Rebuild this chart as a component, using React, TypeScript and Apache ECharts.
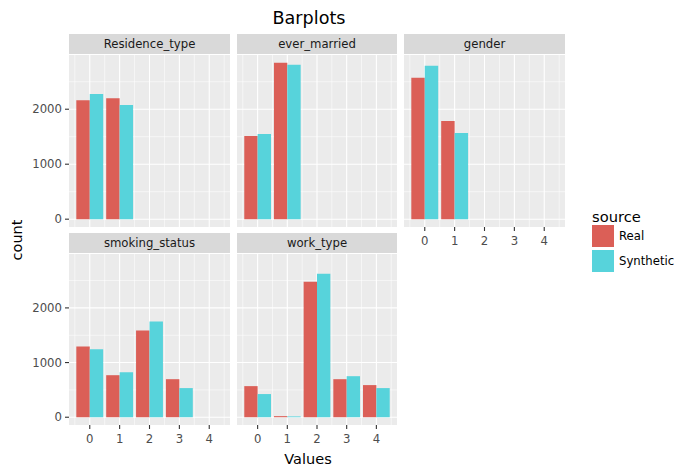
import React, { useEffect, useRef } from "react";
import * as echarts from "echarts";

// ---- data ----
const xValues = [0, 1, 2, 3, 4];
const facetNames = ["Residence_type", "ever_married", "gender", "smoking_status", "work_type"];
const sourceNames = ["Real", "Synthetic"];
const realResidenceType = [2165, 2200];
const synthResidenceType = [2279, 2078];
const realEverMarried = [1513, 2844];
const synthEverMarried = [1550, 2808];
const realGender = [2571, 1786];
const synthGender = [2790, 1568];
const realSmokingStatus = [1296, 769, 1587, 696];
const synthSmokingStatus = [1242, 824, 1751, 533];
const realWorkType = [569, 20, 2478, 696, 588];
const synthWorkType = [424, 15, 2624, 751, 533];
const yTickValues = [0, 1000, 2000];
const yMinorValues = [500, 1500, 2500];
const xMinorValues = [-0.5, 0.5, 1.5, 2.5, 3.5, 4.5];

const realByFacet = [realResidenceType, realEverMarried, realGender, realSmokingStatus, realWorkType];
const synthByFacet = [synthResidenceType, synthEverMarried, synthGender, synthSmokingStatus, synthWorkType];

const COLORS = ["#DB5F57", "#57D3DB"];
const FONT = "DejaVu Sans";

// layout
const panels = [
  { left: 69, top: 55, width: 161, height: 172, yLabels: true, xLabels: false },
  { left: 237, top: 55, width: 160, height: 172, yLabels: false, xLabels: false },
  { left: 404, top: 55, width: 161, height: 172, yLabels: false, xLabels: true },
  { left: 69, top: 254, width: 161, height: 171, yLabels: true, xLabels: true },
  { left: 237, top: 254, width: 160, height: 171, yLabels: false, xLabels: true },
];
const STRIP_H = 20;
const TICK_LEN = 4;

export default function App() {
  const ref = useRef<HTMLDivElement>(null);
  useEffect(() => {
    if (!ref.current) return;
    const chart = echarts.init(ref.current, null, { renderer: "svg" });

    const allVals = [...realByFacet.flat(), ...synthByFacet.flat()];
    const dMax = Math.max(...allVals);
    const yMin = -0.05 * dMax;
    const yMax = 1.05 * dMax;
    const barW = 0.45;
    const last = xValues[xValues.length - 1];
    const xLo = -barW - 0.05 * (last + 2 * barW);
    const xHi = last + barW + 0.05 * (last + 2 * barW);

    const grids: any[] = [];
    const xAxes: any[] = [];
    const yAxes: any[] = [];
    const series: any[] = [];
    const graphics: any[] = [];

    panels.forEach((p, i) => {
      grids.push({
        left: p.left, top: p.top, width: p.width, height: p.height,
        show: true, backgroundColor: "#EBEBEB", borderWidth: 0, containLabel: false,
      });
      xAxes.push({
        type: "value", gridIndex: i, min: xLo, max: xHi,
        axisLine: { show: false }, splitLine: { show: false }, axisTick: { show: false },
        axisLabel: {
          show: p.xLabels, customValues: xValues, color: "#4D4D4D", fontSize: 11.7, fontFamily: FONT, margin: 8,
          formatter: (v: number) => String(v),
        },
      });
      yAxes.push({
        type: "value", gridIndex: i, min: yMin, max: yMax,
        axisLine: { show: false }, splitLine: { show: false }, axisTick: { show: false },
        axisLabel: {
          show: p.yLabels, customValues: yTickValues, color: "#4D4D4D", fontSize: 11.7, fontFamily: FONT, margin: 7,
          formatter: (v: number) => String(v),
        },
      });
      // gridlines and ticks: [kind, value, major]; kind 0 = x grid, 1 = y grid, 2 = x tick, 3 = y tick
      const gl: number[][] = [];
      xMinorValues.forEach((v) => gl.push([0, v, 0]));
      xValues.forEach((v) => gl.push([0, v, 1]));
      yMinorValues.forEach((v) => gl.push([1, v, 0]));
      yTickValues.forEach((v) => gl.push([1, v, 1]));
      if (p.xLabels) xValues.forEach((v) => gl.push([2, v, 1]));
      if (p.yLabels) yTickValues.forEach((v) => gl.push([3, v, 1]));
      series.push({
        type: "custom", xAxisIndex: i, yAxisIndex: i, z: 1, silent: true, clip: false,
        data: gl,
        renderItem: (params: any, api: any) => {
          const cs = params.coordSys;
          const kind = api.value(0);
          const v = api.value(1);
          const lw = api.value(2) ? 1.1 : 0.55;
          if (kind === 0) {
            const px = api.coord([v, 0])[0];
            return { type: "line", shape: { x1: px, y1: cs.y, x2: px, y2: cs.y + cs.height }, style: { stroke: "#FFFFFF", lineWidth: lw } };
          }
          if (kind === 1) {
            const py = api.coord([0, v])[1];
            return { type: "line", shape: { x1: cs.x, y1: py, x2: cs.x + cs.width, y2: py }, style: { stroke: "#FFFFFF", lineWidth: lw } };
          }
          if (kind === 2) {
            const px = api.coord([v, 0])[0];
            const yb = cs.y + cs.height;
            return { type: "line", shape: { x1: px, y1: yb, x2: px, y2: yb + TICK_LEN }, style: { stroke: "#333333", lineWidth: 1.1 } };
          }
          const py = api.coord([0, v])[1];
          return { type: "line", shape: { x1: cs.x - TICK_LEN, y1: py, x2: cs.x, y2: py }, style: { stroke: "#333333", lineWidth: 1.1 } };
        },
      });
      [realByFacet[i], synthByFacet[i]].forEach((arr, s) => {
        const off0 = s === 0 ? -barW : 0;
        const off1 = s === 0 ? 0 : barW;
        series.push({
          type: "custom", name: sourceNames[s], xAxisIndex: i, yAxisIndex: i, z: 2,
          itemStyle: { color: COLORS[s] },
          data: arr.map((v, k) => [xValues[k], v]),
          renderItem: (params: any, api: any) => {
            const x = api.value(0);
            const v = api.value(1);
            const a = api.coord([x + off0, v]);
            const b = api.coord([x + off1, 0]);
            return { type: "rect", shape: { x: a[0], y: a[1], width: b[0] - a[0], height: b[1] - a[1] }, style: { fill: COLORS[s] } };
          },
        });
      });
      graphics.push({
        type: "rect", left: p.left, top: p.top - STRIP_H - 1,
        shape: { width: p.width, height: STRIP_H }, style: { fill: "#D9D9D9" }, silent: true,
      });
      graphics.push({
        type: "text", x: p.left + p.width / 2, y: p.top - 1 - STRIP_H / 2,
        style: { text: facetNames[i], fill: "#1A1A1A", font: `11.7px "${FONT}"`, textAlign: "center", textVerticalAlign: "middle" },
      });
    });

    graphics.push({
      type: "text", x: 309, y: 18,
      style: { text: "Barplots", fill: "#000000", font: `17.6px "${FONT}"`, textAlign: "center", textVerticalAlign: "middle" },
    });
    graphics.push({
      type: "text", x: 308, y: 459,
      style: { text: "Values", fill: "#000000", font: `14.5px "${FONT}"`, textAlign: "center", textVerticalAlign: "middle" },
    });
    graphics.push({
      type: "text", x: 17, y: 240, rotation: Math.PI / 2,
      style: { text: "count", fill: "#000000", font: `14.5px "${FONT}"`, textAlign: "center", textVerticalAlign: "middle" },
    });
    graphics.push({
      type: "text", x: 592, y: 216,
      style: { text: "source", fill: "#000000", font: `14.7px "${FONT}"`, textAlign: "left", textVerticalAlign: "middle" },
    });
    sourceNames.forEach((n, s) => {
      graphics.push({ type: "rect", shape: { x: 592, y: 225 + s * 25, width: 22, height: 22 }, style: { fill: COLORS[s] } });
      graphics.push({
        type: "text", x: 619, y: 236 + s * 25,
        style: { text: n, fill: "#000000", font: `11.7px "${FONT}"`, textAlign: "left", textVerticalAlign: "middle" },
      });
    });

    chart.setOption({
      animation: false,
      backgroundColor: "#FFFFFF",
      textStyle: { fontFamily: FONT },
      grid: grids,
      xAxis: xAxes,
      yAxis: yAxes,
      series,
      graphic: { elements: graphics },
    });
    return () => chart.dispose();
  }, []);
  return <div ref={ref} style={{ position: "fixed", left: 0, top: 0, width: 687, height: 476 }} />;
}
